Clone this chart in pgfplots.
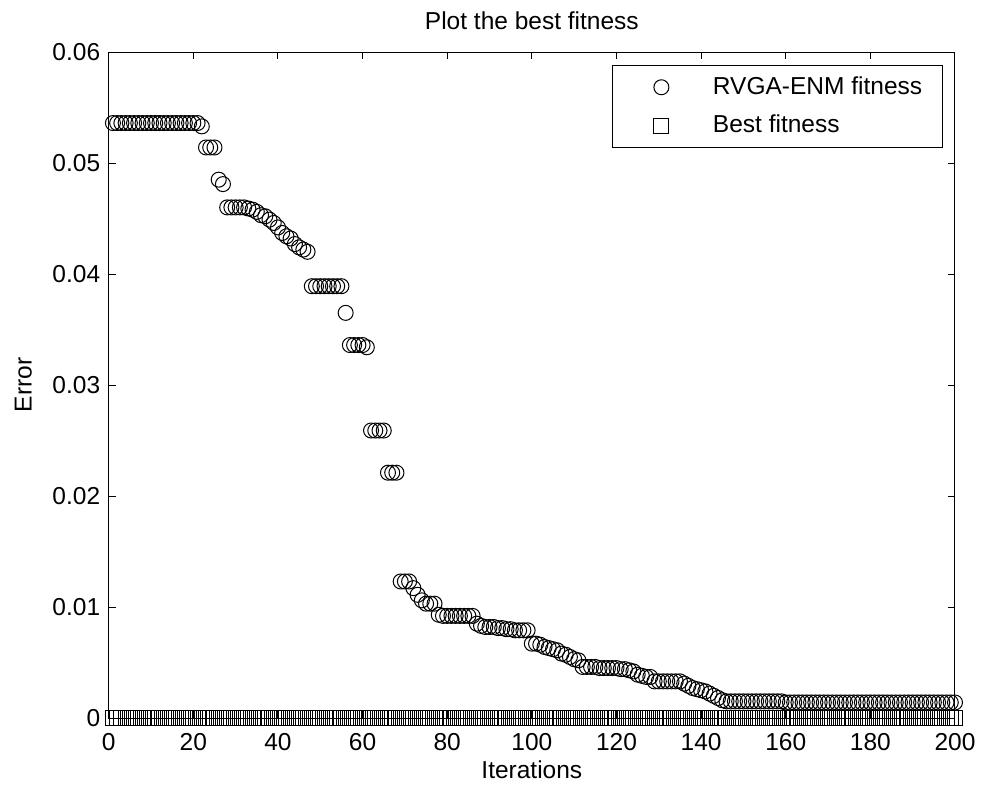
\documentclass[border=0pt]{standalone}
\usepackage{pgfplots}
\pgfplotsset{compat=1.18}
\usepackage{pgfplotstable}
\usepackage{fontspec}
\setmainfont{Liberation Sans}

\pgfplotstableread{
x y
1 0.0536
2 0.0536
3 0.0536
4 0.0536
5 0.0536
6 0.0536
7 0.0536
8 0.0536
9 0.0536
10 0.0536
11 0.0536
12 0.0536
13 0.0536
14 0.0536
15 0.0536
16 0.0536
17 0.0536
18 0.0536
19 0.0536
20 0.0536
21 0.0536
22 0.0533
23 0.0514
24 0.0514
25 0.0514
26 0.0485
27 0.0481
28 0.0460
29 0.0460
30 0.0460
31 0.0460
32 0.0460
33 0.0459
34 0.0458
35 0.0456
36 0.0453
37 0.0452
38 0.0449
39 0.0446
40 0.0442
41 0.0437
42 0.0434
43 0.0432
44 0.0427
45 0.0424
46 0.0422
47 0.0420
48 0.0389
49 0.0389
50 0.0389
51 0.0389
52 0.0389
53 0.0389
54 0.0389
55 0.0389
56 0.0365
57 0.0336
58 0.0336
59 0.0336
60 0.0336
61 0.0334
62 0.0259
63 0.0259
64 0.0259
65 0.0259
66 0.0221
67 0.0221
68 0.0221
69 0.0123
70 0.0123
71 0.0123
72 0.0117
73 0.0111
74 0.0106
75 0.0103
76 0.0103
77 0.0103
78 0.0093
79 0.0092
80 0.0092
81 0.0092
82 0.0092
83 0.0092
84 0.0092
85 0.0092
86 0.0092
87 0.0085
88 0.0083
89 0.0082
90 0.0082
91 0.0082
92 0.0081
93 0.0081
94 0.0080
95 0.0080
96 0.0079
97 0.0079
98 0.0079
99 0.0079
100 0.0067
101 0.0067
102 0.0066
103 0.0064
104 0.0063
105 0.0062
106 0.0061
107 0.0058
108 0.0057
109 0.0055
110 0.0053
111 0.0052
112 0.0046
113 0.0046
114 0.0046
115 0.0046
116 0.0045
117 0.0045
118 0.0045
119 0.0045
120 0.0045
121 0.0044
122 0.0044
123 0.0043
124 0.0042
125 0.0039
126 0.0038
127 0.0037
128 0.0037
129 0.0033
130 0.0033
131 0.0033
132 0.0033
133 0.0033
134 0.0033
135 0.0033
136 0.0031
137 0.0029
138 0.0027
139 0.0026
140 0.0025
141 0.0024
142 0.0022
143 0.0020
144 0.0018
145 0.0016
146 0.0015
147 0.0015
148 0.0015
149 0.0015
150 0.0015
151 0.0015
152 0.0015
153 0.0015
154 0.0015
155 0.0015
156 0.0015
157 0.0015
158 0.0015
159 0.0015
160 0.0014
161 0.0014
162 0.0014
163 0.0014
164 0.0014
165 0.0014
166 0.0014
167 0.0014
168 0.0014
169 0.0014
170 0.0014
171 0.0014
172 0.0014
173 0.0014
174 0.0014
175 0.0014
176 0.0014
177 0.0014
178 0.0014
179 0.0014
180 0.0014
181 0.0014
182 0.0014
183 0.0014
184 0.0014
185 0.0014
186 0.0014
187 0.0014
188 0.0014
189 0.0014
190 0.0014
191 0.0014
192 0.0014
193 0.0014
194 0.0014
195 0.0014
196 0.0014
197 0.0014
198 0.0014
199 0.0014
200 0.0014
}\rvga

\pgfplotstableread{
x y
1 0
2 0
3 0
4 0
5 0
6 0
7 0
8 0
9 0
10 0
11 0
12 0
13 0
14 0
15 0
16 0
17 0
18 0
19 0
20 0
21 0
22 0
23 0
24 0
25 0
26 0
27 0
28 0
29 0
30 0
31 0
32 0
33 0
34 0
35 0
36 0
37 0
38 0
39 0
40 0
41 0
42 0
43 0
44 0
45 0
46 0
47 0
48 0
49 0
50 0
51 0
52 0
53 0
54 0
55 0
56 0
57 0
58 0
59 0
60 0
61 0
62 0
63 0
64 0
65 0
66 0
67 0
68 0
69 0
70 0
71 0
72 0
73 0
74 0
75 0
76 0
77 0
78 0
79 0
80 0
81 0
82 0
83 0
84 0
85 0
86 0
87 0
88 0
89 0
90 0
91 0
92 0
93 0
94 0
95 0
96 0
97 0
98 0
99 0
100 0
101 0
102 0
103 0
104 0
105 0
106 0
107 0
108 0
109 0
110 0
111 0
112 0
113 0
114 0
115 0
116 0
117 0
118 0
119 0
120 0
121 0
122 0
123 0
124 0
125 0
126 0
127 0
128 0
129 0
130 0
131 0
132 0
133 0
134 0
135 0
136 0
137 0
138 0
139 0
140 0
141 0
142 0
143 0
144 0
145 0
146 0
147 0
148 0
149 0
150 0
151 0
152 0
153 0
154 0
155 0
156 0
157 0
158 0
159 0
160 0
161 0
162 0
163 0
164 0
165 0
166 0
167 0
168 0
169 0
170 0
171 0
172 0
173 0
174 0
175 0
176 0
177 0
178 0
179 0
180 0
181 0
182 0
183 0
184 0
185 0
186 0
187 0
188 0
189 0
190 0
191 0
192 0
193 0
194 0
195 0
196 0
197 0
198 0
199 0
200 0
}\best

\pgfplotsset{mylegimg/.style={legend image code/.code={%
  \path[draw=none,fill=none] (0pt,-2pt) rectangle (50.3pt,2pt);
  \draw[##1] plot coordinates {(24.5pt,0pt)};}}}

\begin{document}
\fontsize{12.25}{14.5}\selectfont
\begin{tikzpicture}
\path[use as bounding box] (-54.35pt,-33pt) rectangle (436.15pt,359pt);
\begin{axis}[
  at={(0pt,0pt)}, anchor=south west,
  scale only axis,
  width=423.15pt, height=333pt,
  xmin=0, xmax=200, ymin=0, ymax=0.06,
  xtick={0,20,...,200},
  ytick={0,0.01,0.02,0.03,0.04,0.05,0.06},
  yticklabels={0,0.01,0.02,0.03,0.04,0.05,0.06},
  scaled y ticks=false,
  /pgf/number format/assume math mode=true,
  tick align=inside,
  xtick pos=both, ytick pos=both,
  major tick length=3.5pt,
  tick style={black, line width=0.5pt},
  axis line style={black, line width=0.5pt},
  every tick label/.append style={font=\fontsize{12.25}{14.5}\selectfont},
  xticklabel style={yshift=-3.3pt},
  clip=false,
  every axis title shift=0pt,
  title={Plot the best fitness},
  title style={at={(axis description cs:0.5,1.0341)}, anchor=base, font=\fontsize{12.25}{14.5}\selectfont},
  xlabel={Iterations},
  xlabel style={at={(axis description cs:0.5,-0.0905)}, anchor=base, font=\fontsize{12.25}{14.5}\selectfont},
  ylabel={Error},
  ylabel style={at={(axis description cs:-0.091,0.5)}, anchor=base, rotate=0, font=\fontsize{12.25}{14.5}\selectfont},
  legend cell align=left,
  legend style={at={(axis description cs:1,1)}, anchor=north east,
    xshift=-5.85pt, yshift=-6.5pt,
    draw=black, line width=0.5pt, fill=white,
    inner xsep=0pt, inner ysep=1.3pt, row sep=0pt,
    font=\fontsize{12.25}{14.5}\selectfont,
    nodes={inner sep=0pt, minimum height=19.15pt}},
]
\addplot[only marks, mark=o, mark size=3.75pt, black, line width=0.5pt, mylegimg] table[x=x,y=y] {\rvga};
\addlegendentry{RVGA-ENM fitness\hspace*{10.3pt}}
\addplot[only marks, mark=square, mark size=3.75pt, black, line width=0.5pt, mylegimg] table[x=x,y=y] {\best};
\addlegendentry{Best fitness}
\end{axis}
\end{tikzpicture}
\end{document}
